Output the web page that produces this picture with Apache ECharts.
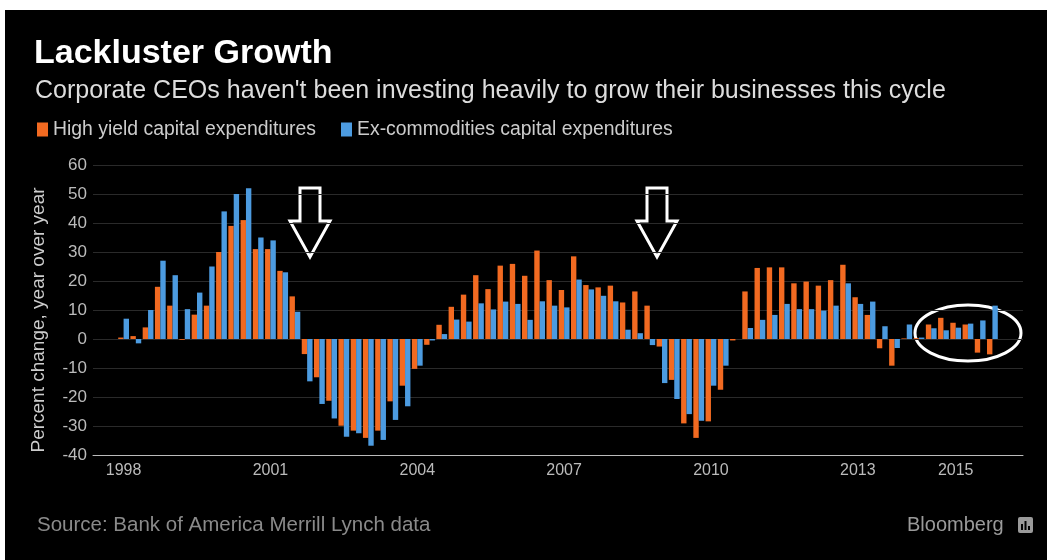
<!DOCTYPE html>
<html>
<head>
<meta charset="utf-8">
<script src="https://cdn.jsdelivr.net/npm/echarts@6/dist/echarts.min.js"></script>
<style>
html, body { margin: 0; padding: 0; background: #fff; }
#bg { position: absolute; left: 5px; top: 10px; width: 1042px; height: 550px; background: #000; }
#c { position: absolute; left: 0; top: 0; width: 1047px; height: 560px; }
</style>
</head>
<body>
<div id="bg"></div>
<div id="c"></div>
<script>
// quarterly data, 1998 Q1 .. 2015 Q4
var highYield = [
	0.5, 1, 4, 18, 11.5, -0.3, 8.4, 11.5, 30, 39, 41, 31,
	31, 23.5, 14.7, -5.2, -13.2, -21.3, -29.9, -31.6, -34.1, -31.6, -21.5, -16.1,
	-10.3, -2, 4.9, 11.1, 15.3, 22, 17.2, 25.3, 25.9, 21.8, 30.5, 20.3,
	16.9, 28.5, 18.6, 17.8, 18.4, 12.6, 16.4, 11.5, -2.6, -14.1, -29.1, -34.1,
	-28.4, -17.5, -0.5, 16.4, 24.5, 24.7, 24.7, 19.2, 19.8, 18.4, 20.3, 25.6,
	14.4, 8.3, -3.2, -9.2, 0.2, 0.3, 5, 7.3, 5.6, 5, -4.7, -5.3
];
var exCommodities = [
	7, -1.5, 10, 27, 22, 10.3, 16, 25, 44, 50, 52, 35,
	34, 23, 9.4, -14.6, -22.4, -27.4, -33.7, -32.5, -36.8, -34.8, -27.9, -23.2,
	-9.2, -0.5, 1.7, 6.7, 6, 12.3, 10.2, 12.9, 12.1, 6.6, 13, 11.5,
	10.9, 20.5, 17.1, 14.9, 13, 3.2, 2, -2.1, -15.2, -20.7, -25.9, -28.2,
	-16.1, -9.2, 0, 3.8, 6.6, 8.3, 12.1, 10.3, 10.3, 9.8, 11.5, 19.2,
	12.1, 12.9, 4.4, -3.1, 5, 0.5, 3.7, 3, 3.9, 5.3, 6.4, 11.5
];
var tickLabels = ['1998', '2001', '2004', '2007', '2010', '2013', '2015'];
var yTicks = [-40, -30, -20, -10, 0, 10, 20, 30, 40, 50, 60];

// empty quarters on both ends so the axis runs past the bars
var quarters = ['1997 Q3', '1997 Q4'];
for (var y = 1998; y <= 2015; y++) {
	for (var q = 1; q <= 4; q++) {
		quarters.push(y + ' Q' + q);
	}
}
quarters.push('2016 Q1', '2016 Q2');
var pad = [null, null];

function isTick (idx, val) {
	return val.slice(-2) === 'Q1' && tickLabels.indexOf(val.slice(0, 4)) >= 0;
}

function arrow (cx) {
	return {
		type: 'polygon',
		shape: {points: [[cx - 10, 188], [cx + 10, 188], [cx + 10, 221], [cx + 20, 221], [cx, 257], [cx - 20, 221], [cx - 10, 221]]},
		style: {fill: null, stroke: '#fff', lineWidth: 3}
	};
}

function init () {
	var cc = echarts.init(document.getElementById('c'));
	var font = 'Liberation Sans, Arial, sans-serif';

	var op = {
		animation: false,
		title: [
			{text: 'Lackluster Growth', left: 34, top: 37, padding: 0,
				textStyle: {color: '#fff', fontSize: 34, fontWeight: 'bold', fontFamily: font}},
			{text: "Corporate CEOs haven't been investing heavily to grow their businesses this cycle", left: 35, top: 79, padding: 0,
				textStyle: {color: '#ddd', fontSize: 25, fontWeight: 'normal', fontFamily: font}},
			{text: 'Source: Bank of America Merrill Lynch data', left: 37, top: 515, padding: 0,
				textStyle: {color: '#8a8a8a', fontSize: 20.5, fontWeight: 'normal', fontFamily: font}},
			{text: 'Bloomberg', left: 907, top: 515, padding: 0,
				textStyle: {color: '#9a9a9a', fontSize: 20, fontWeight: 'normal', fontFamily: font}}
		],
		legend: {
			left: 37,
			top: 120,
			padding: 0,
			itemGap: 25,
			itemWidth: 11,
			itemHeight: 14,
			icon: 'rect',
			textStyle: {color: '#ccc', fontSize: 19.4, fontFamily: font},
			data: ['High yield capital expenditures', 'Ex-commodities capital expenditures']
		},
		grid: {left: 93, right: 24, top: 165, bottom: 105},
		xAxis: {
			type: 'category',
			data: quarters,
			axisLine: {onZero: false, lineStyle: {color: '#bbb'}},
			axisTick: {interval: isTick, alignWithLabel: true, length: 4, lineStyle: {color: '#bbb'}},
			axisLabel: {
				interval: isTick,
				color: '#bbb',
				fontSize: 16,
				fontFamily: font,
				margin: 8,
				formatter: function (v) { return v.slice(0, 4); }
			},
			splitLine: {show: false}
		},
		yAxis: {
			type: 'value',
			min: yTicks[0],
			max: yTicks[yTicks.length - 1],
			interval: 10,
			name: 'Percent change, year over year',
			nameLocation: 'middle',
			nameGap: 45,
			nameTextStyle: {color: '#ccc', fontSize: 19, fontFamily: font, padding: [0, 20, 0, 0]},
			axisLine: {show: false},
			axisTick: {show: false},
			axisLabel: {color: '#bbb', fontSize: 17, fontFamily: font, margin: 6},
			splitLine: {lineStyle: {color: '#2a2a2a', width: 1}}
		},
		series: [
			{
				name: 'High yield capital expenditures',
				type: 'bar',
				data: pad.concat(highYield, pad),
				itemStyle: {color: '#f26a21'},
				barGap: '0%',
				barCategoryGap: '12%'
			},
			{
				name: 'Ex-commodities capital expenditures',
				type: 'bar',
				data: pad.concat(exCommodities, pad),
				itemStyle: {color: '#4c9be0'},
				barGap: '0%',
				barCategoryGap: '12%'
			}
		],
		graphic: [
			arrow(310),
			arrow(657),
			{
				type: 'ellipse',
				shape: {cx: 968, cy: 333, rx: 53, ry: 28},
				style: {fill: null, stroke: '#fff', lineWidth: 3}
			},
			{
				type: 'rect',
				shape: {x: 1018, y: 517, width: 15, height: 16, r: 2},
				style: {fill: '#9a9a9a'}
			},
			{type: 'rect', shape: {x: 1021, y: 524, width: 2, height: 6}, style: {fill: '#000'}},
			{type: 'rect', shape: {x: 1024.5, y: 521, width: 2, height: 9}, style: {fill: '#000'}},
			{type: 'rect', shape: {x: 1028, y: 526, width: 2, height: 4}, style: {fill: '#000'}}
		]
	};

	cc.setOption(op);
}

init();
</script>
</body>
</html>
